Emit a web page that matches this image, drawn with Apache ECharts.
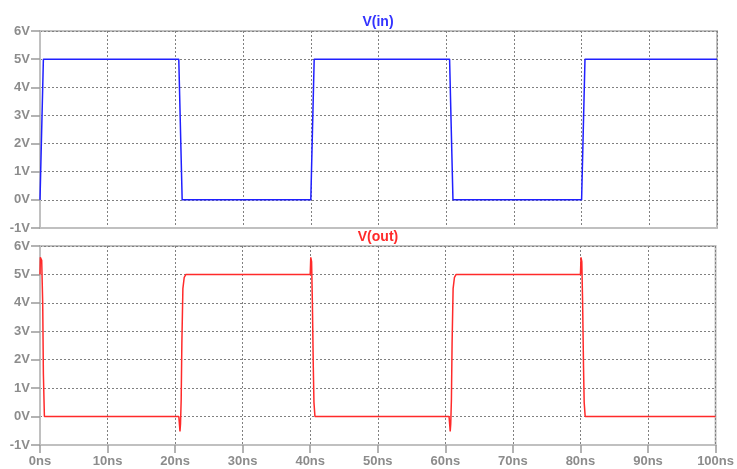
<!DOCTYPE html>
<html>
<head>
<meta charset="utf-8">
<script src="https://cdn.jsdelivr.net/npm/echarts@6/dist/echarts.min.js"></script>
<style>html,body{margin:0;padding:0;background:#fff;}#c{width:737px;height:469px;}</style>
</head>
<body>
<div id="c"></div>
<script>
// V(in) waveform (time in ns, volts)
var inTimes  = [0, 0.5, 20.5, 21, 40, 40.5, 60.5, 61, 80, 80.5, 100];
var inValues = [0, 5,   5,    0,  0,  5,    5,    0,  0,  5,    5];

// V(out) waveform (time in ns, volts)
var outTimes  = [0, 0.05, 0.25, 0.4, 0.5, 0.65,
                 20.55, 20.65, 20.72, 20.8, 20.9, 21.0, 21.15, 21.35, 21.6,
                 40.0, 40.08, 40.2, 40.32, 40.45, 40.55, 40.7,
                 60.55, 60.65, 60.72, 60.8, 60.9, 61.0, 61.15, 61.35, 61.6,
                 80.0, 80.08, 80.2, 80.32, 80.45, 80.55, 80.7,
                 100];
var outValues = [5.0, 5.6, 5.5, 4.0, 1.5, 0,
                 0, -0.3, -0.52, -0.25, 0.6, 2.6, 4.5, 4.9, 5.0,
                 5.0, 5.6, 5.45, 4.0, 1.8, 0.5, 0,
                 0, -0.3, -0.52, -0.25, 0.6, 2.6, 4.5, 4.9, 5.0,
                 5.0, 5.6, 5.45, 4.0, 1.8, 0.5, 0,
                 0];

var yTicks = [-1, 0, 1, 2, 3, 4, 5, 6];
var xTicks = [0, 10, 20, 30, 40, 50, 60, 70, 80, 90, 100];

function pairs(t, v) { return t.map(function (x, i) { return [x, v[i]]; }); }

var labelColor = '#8c8c8c';
var labelFont = { color: labelColor, fontWeight: 'bold', fontSize: 13, fontFamily: 'Liberation Sans, Arial, sans-serif' };
var borderCol = '#c0c0c0';
var tickCol = '#9a9a9a';
var gridLine = { show: true, lineStyle: { color: '#808080', type: [2, 2], width: 1 } };

function yAxis(idx) {
  return {
    type: 'value', gridIndex: idx, min: yTicks[0], max: yTicks[yTicks.length - 1], interval: 1,
    axisLine: { show: true, lineStyle: { color: borderCol, width: 2 } },
    axisTick: { show: true, length: 9, lineStyle: { color: tickCol, width: 1.5 } },
    axisLabel: Object.assign({ margin: 10, formatter: '{value}V' }, labelFont),
    splitLine: gridLine
  };
}
function xAxis(idx, showLabels) {
  return {
    type: 'value', gridIndex: idx, min: xTicks[0], max: xTicks[xTicks.length - 1], interval: 10,
    axisLine: { show: true, onZero: false, lineStyle: { color: borderCol, width: 2 } },
    axisTick: { show: showLabels, length: 8, lineStyle: { color: tickCol, width: 1.5 } },
    axisLabel: Object.assign({ show: showLabels, margin: 10, formatter: '{value}ns' }, labelFont),
    splitLine: gridLine
  };
}

var chart = echarts.init(document.getElementById('c'), null, { renderer: 'canvas' });
chart.setOption({
  animation: false,
  backgroundColor: '#ffffff',
  grid: [
    { left: 40, right: 20, top: 31, height: 197, show: true, borderColor: borderCol, borderWidth: 2, backgroundColor: 'transparent' },
    { left: 40, right: 20, top: 246, height: 199, show: true, borderColor: borderCol, borderWidth: 2, backgroundColor: 'transparent' }
  ],
  xAxis: [xAxis(0, false), xAxis(1, true)],
  yAxis: [yAxis(0), yAxis(1)],
  graphic: [
    { type: 'text', x: 378, y: 22, style: { text: 'V(in)', align: 'center', verticalAlign: 'middle', textAlign: 'center', textVerticalAlign: 'middle', font: 'bold 14px Liberation Sans, Arial, sans-serif', fill: '#3333ff' } },
    { type: 'text', x: 378, y: 237, style: { text: 'V(out)', align: 'center', verticalAlign: 'middle', textAlign: 'center', textVerticalAlign: 'middle', font: 'bold 14px Liberation Sans, Arial, sans-serif', fill: '#ff2a2a' } }
  ],
  series: [
    { name: 'V(in)', type: 'line', xAxisIndex: 0, yAxisIndex: 0, showSymbol: false, data: pairs(inTimes, inValues), lineStyle: { color: '#2020ff', width: 1.5 }, itemStyle: { color: '#2020ff' } },
    { name: 'V(out)', type: 'line', xAxisIndex: 1, yAxisIndex: 1, showSymbol: false, data: pairs(outTimes, outValues), lineStyle: { color: '#ff2a2a', width: 1.5 }, itemStyle: { color: '#ff2a2a' } }
  ]
});
</script>
</body>
</html>
